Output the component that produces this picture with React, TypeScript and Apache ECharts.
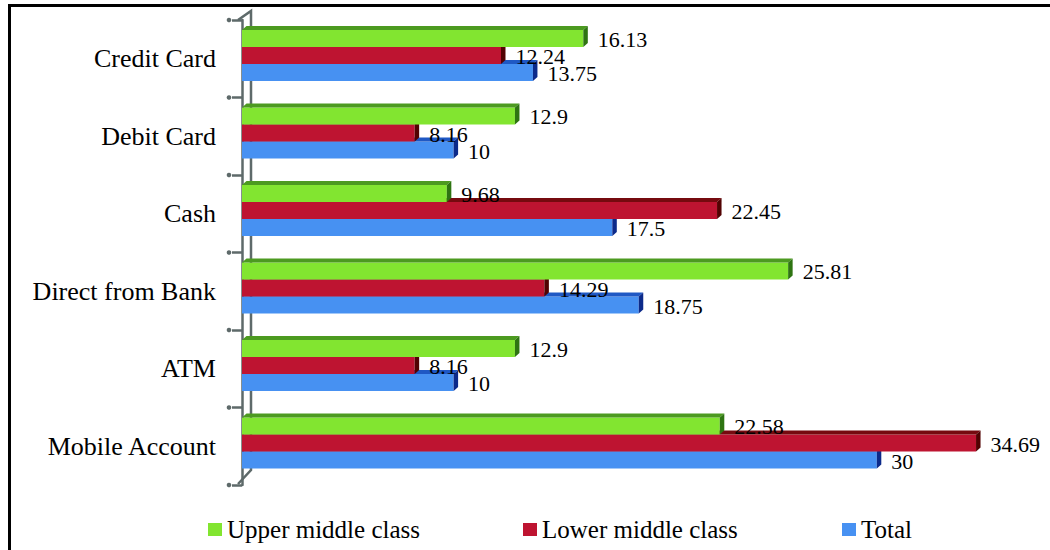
import { useEffect, useRef } from "react";
import * as echarts from "echarts";

// Categories listed top to bottom
const categories = [
  "Credit Card",
  "Debit Card",
  "Cash",
  "Direct from Bank",
  "ATM",
  "Mobile Account",
];

const seriesNames = ["Upper middle class", "Lower middle class", "Total"];

const upperMiddle = [16.13, 12.9, 9.68, 25.81, 12.9, 22.58];
const lowerMiddle = [12.24, 8.16, 22.45, 14.29, 8.16, 34.69];
const total = [13.75, 10, 17.5, 18.75, 10, 30];

const seriesValues = [upperMiddle, lowerMiddle, total];

// front / top face / side face colours of each 3-D bar
const palettes = [
  { front: "#82E530", top: "#4C9A20", side: "#2E7412" },
  { front: "#BE1431", top: "#760A0F", side: "#520202" },
  { front: "#4791F2", top: "#1F58C4", side: "#0C2A8A" },
];

const FONT = "Liberation Serif, serif";
const AXIS_GRAY = "#5E6A6A";

const GRID_LEFT = 242;
const GRID_TOP = 20;
const GRID_HEIGHT = 465;
const X_MAX = 36;
const DEPTH_X = 4.5;
const DEPTH_Y = 4;
const AXIS_OFFSET = 4;
const legendLefts = [208, 523, 842];

function makeRenderItem(slot: number) {
  const pal = palettes[slot];
  const base = (3 - slot) * 10;
  return (params: any, api: any) => {
    const val = api.value(0);
    const cat = api.value(1);
    const start = api.coord([0, cat]);
    const end = api.coord([val, cat]);
    const band = Math.abs(api.size([0, 1])[1]);
    const h = band * 0.2194;
    const yTop = start[1] - band / 2 + band * 0.129 + slot * h;
    const yBot = yTop + h;
    const x0 = start[0];
    const x1 = end[0];
    return {
      type: "group",
      children: [
        {
          type: "rect",
          z2: base,
          shape: { x: x0, y: yTop, width: x1 - x0, height: h },
          style: { fill: pal.front },
        },
        {
          type: "polygon",
          z2: base + 1,
          shape: {
            points: [
              [x0, yTop],
              [x0 + DEPTH_X, yTop - DEPTH_Y],
              [x1 + DEPTH_X, yTop - DEPTH_Y],
              [x1, yTop],
            ],
          },
          style: { fill: pal.top },
        },
        {
          type: "polygon",
          z2: base + 1,
          shape: {
            points: [
              [x1, yTop],
              [x1 + DEPTH_X, yTop - DEPTH_Y],
              [x1 + DEPTH_X, yBot - DEPTH_Y],
              [x1, yBot],
            ],
          },
          style: { fill: pal.side },
        },
        {
          type: "text",
          z2: 100,
          style: {
            text: String(val),
            x: x1 + DEPTH_X + 10,
            y: (yTop + yBot) / 2 + 1,
            align: "left",
            verticalAlign: "middle",
            font: "22px Liberation Serif, serif",
            fill: "#000",
          },
        },
      ],
    };
  };
}

export default function App() {
  const ref = useRef<HTMLDivElement>(null);

  useEffect(() => {
    if (!ref.current) return;
    const chart = echarts.init(ref.current, undefined, { renderer: "svg" });

    const frontX = GRID_LEFT - AXIS_OFFSET;
    const backX = frontX + 13;
    const gridBottom = GRID_TOP + GRID_HEIGHT;
    const band = GRID_HEIGHT / categories.length;
    const wallLine = { stroke: AXIS_GRAY, lineWidth: 2.5 };

    const tickDots = Array.from({ length: categories.length + 1 }, (_, i) => ({
      type: "circle",
      shape: { cx: frontX - 9, cy: GRID_TOP + i * band, r: 2.3 },
      style: { fill: AXIS_GRAY },
      z: 5,
    }));

    chart.setOption({
      animation: false,
      backgroundColor: "#fff",
      textStyle: { fontFamily: FONT },
      grid: {
        left: GRID_LEFT,
        top: GRID_TOP,
        height: GRID_HEIGHT,
        right: 1050 - GRID_LEFT - X_MAX * 21.16,
        containLabel: false,
      },
      xAxis: {
        type: "value",
        min: 0,
        max: X_MAX,
        show: false,
      },
      yAxis: {
        type: "category",
        inverse: true,
        data: categories,
        offset: AXIS_OFFSET,
        axisLine: { show: true, lineStyle: { color: AXIS_GRAY, width: 2.5 } },
        axisTick: {
          show: true,
          length: 10,
          lineStyle: { color: AXIS_GRAY, width: 2.5 },
        },
        axisLabel: {
          margin: 22,
          fontFamily: FONT,
          fontSize: 26,
          color: "#000",
        },
        splitLine: { show: false },
      },
      legend: seriesNames.map((name, i) => ({
        data: [name],
        left: legendLefts[i],
        top: 517,
        padding: 0,
        itemGap: 0,
        itemWidth: 14,
        itemHeight: 13,
        icon: "rect",
        selectedMode: false,
        textStyle: { fontFamily: FONT, fontSize: 25, color: "#000" },
      })),
      graphic: [
        // outer frame
        { type: "rect", shape: { x: 8, y: 4, width: 1042, height: 3 }, style: { fill: "#000" }, z: 10 },
        { type: "rect", shape: { x: 8, y: 4, width: 3, height: 546 }, style: { fill: "#000" }, z: 10 },
        // back edge of the 3-D wall
        {
          type: "polyline",
          shape: {
            points: [
              [frontX, GRID_TOP],
              [backX, GRID_TOP - 9],
              [backX, gridBottom - 15],
              [frontX, gridBottom - 1],
            ],
          },
          style: { ...wallLine, fill: "none" },
          z: 0,
        },
        ...tickDots,
      ],
      series: seriesNames.map((name, slot) => ({
        type: "custom",
        name,
        itemStyle: { color: palettes[slot].front },
        encode: { x: 0, y: 1 },
        data: seriesValues[slot].map((v, i) => [v, i]),
        renderItem: makeRenderItem(slot),
      })),
    });

    return () => chart.dispose();
  }, []);

  return (
    <div
      ref={ref}
      style={{ position: "absolute", left: 0, top: 0, width: 1050, height: 550, background: "#fff" }}
    />
  );
}
